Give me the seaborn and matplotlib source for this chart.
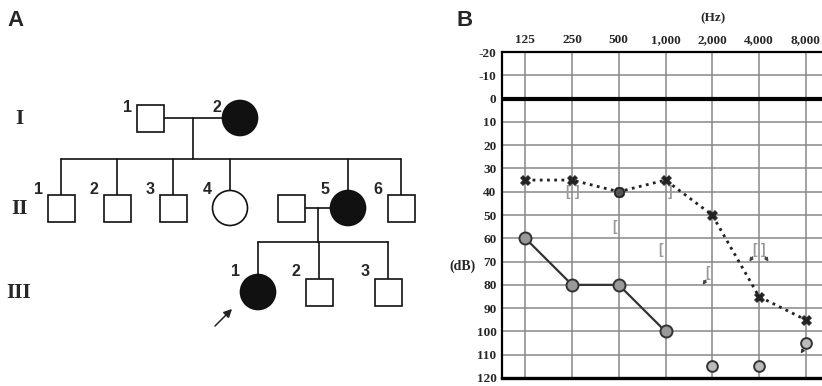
# pedigree (A) + audiogram (B)
import pandas as pd
import matplotlib.pyplot as plt
import seaborn as sns
from matplotlib.patches import Rectangle, Circle

# audiogram values
freqs = ['125', '250', '500', '1,000', '2,000', '4,000', '8,000']
left_air = [35, 35, 40, 35, 50, 85, 95]          # dotted line, X marks
left_o_freq = ['500']
left_o_db = [40]
right_air = [60, 80, 80, 100]                    # solid line, 125-1000 Hz
right_nr_freq = ['2,000', '4,000', '8,000']      # no response
right_nr_db = [115, 115, 105]
bone_freq = ['250', '250', '500', '1,000', '1,000', '2,000', '4,000', '4,000']
bone_db = [40, 40, 55, 40, 65, 75, 65, 65]
bone_sym = ['[', ']', '[', ']', '[', '[', '[', ']']
bone_nr = [0, 0, 0, 0, 0, 1, 1, 1]
db_ticks = list(range(-20, 130, 10))

# pedigree values
gen_names = ['I', 'II', 'III']
gen1_num = ['1', '2']
gen1_sex = ['m', 'f']
gen1_aff = [0, 1]
gen2_num = ['1', '2', '3', '4', '', '5', '6']
gen2_sex = ['m', 'm', 'm', 'f', 'm', 'f', 'm']
gen2_aff = [0, 0, 0, 0, 0, 1, 0]
gen3_num = ['1', '2', '3']
gen3_sex = ['f', 'm', 'm']
gen3_aff = [1, 0, 0]

# pedigree layout (pixels)
row_y = [118, 208, 292]
label_y = [107, 189, 272]
gen1_x = [150, 240]
gen2_x = [61, 117, 173, 230, 291, 348, 401]
gen3_x = [258, 319, 388]

sns.set_style('white')
plt.rcParams['font.family'] = ['Liberation Sans', 'DejaVu Sans']

fig = plt.figure(figsize=(8.22, 3.86), dpi=100)

# ---------- panel A ----------
pa = fig.add_axes([0, 0, 1, 1])
pa.set_xlim(0, 822)
pa.set_ylim(386, 0)
pa.axis('off')
pa.patch.set_alpha(0)

lw = 1.2
half = 13.5
rad = 17.5


def person(x, y, ly, sex, aff, num):
    fc = '#111111' if aff else 'white'
    if sex == 'm':
        pa.add_patch(Rectangle((x - half, y - half), 2 * half, 2 * half,
                               fc=fc, ec='#111111', lw=lw, zorder=3))
        top = y - half
    else:
        pa.add_patch(Circle((x, y), rad, fc=fc, ec='#111111', lw=lw, zorder=3))
        top = y - rad
    if num:
        pa.text(x - 23, ly, num, fontsize=11.5, fontweight='bold',
                ha='center', va='center')
    return top


gens = [(gen1_x, gen1_sex, gen1_aff, gen1_num),
        (gen2_x, gen2_sex, gen2_aff, gen2_num),
        (gen3_x, gen3_sex, gen3_aff, gen3_num)]
tops = []
for (xs, sx, af, nm), y, ly in zip(gens, row_y, label_y):
    tops.append([person(x, y, ly, s, a, n) for x, s, a, n in zip(xs, sx, af, nm)])

for name, y in zip(gen_names, row_y):
    pa.text(19, y + 1, name, fontsize=15, fontweight='bold',
            family='Liberation Serif', ha='center', va='center')

# gen I mating and sibship
pa.plot([gen1_x[0] + half, gen1_x[1] - rad], [118, 118], color='#111', lw=lw)
pa.plot([193, 193], [118, 159], color='#111', lw=lw)
sib2 = [0, 1, 2, 3, 5, 6]
pa.plot([gen2_x[0], gen2_x[-1]], [159, 159], color='#111', lw=lw)
for i in sib2:
    pa.plot([gen2_x[i], gen2_x[i]], [159, tops[1][i]], color='#111', lw=lw)

# gen II mating and sibship
pa.plot([gen2_x[4] + half, gen2_x[5] - rad], [208, 208], color='#111', lw=lw)
pa.plot([318, 318], [208, 242], color='#111', lw=lw)
pa.plot([gen3_x[0], gen3_x[-1]], [242, 242], color='#111', lw=lw)
for i in range(3):
    pa.plot([gen3_x[i], gen3_x[i]], [242, tops[2][i]], color='#111', lw=lw)

# proband arrow
pa.annotate('', xy=(234, 307), xytext=(213, 328),
            arrowprops=dict(arrowstyle='-|>', color='#222', lw=1.1,
                            mutation_scale=12))

pa.text(15, 20, 'A', fontsize=16, fontweight='bold', ha='center', va='center')
pa.text(465, 20, 'B', fontsize=16, fontweight='bold', ha='center', va='center')
pa.text(713, 18, '(Hz)', fontsize=9.5, fontweight='bold',
        family='Liberation Serif', ha='center', va='center')
pa.text(462, 266, '(dB)', fontsize=10, fontweight='bold',
        family='Liberation Serif', ha='center', va='center')

# ---------- panel B ----------
ax = fig.add_axes([502 / 822, 8 / 386, 327 / 822, 326 / 386])
pos = {f: i for i, f in enumerate(freqs)}

air_l = pd.DataFrame({'x': range(len(freqs)), 'db': left_air})
air_r = pd.DataFrame({'x': range(len(right_air)), 'db': right_air})
nr = pd.DataFrame({'x': [pos[f] for f in right_nr_freq], 'db': right_nr_db})

sns.lineplot(data=air_l, x='x', y='db', ax=ax, color='#222222', lw=2,
             linestyle=(0, (1, 1.6)), zorder=4)
sns.scatterplot(data=air_l, x='x', y='db', ax=ax, marker='X', s=50,
                color='#222222', edgecolor='#222222', zorder=5)
sns.scatterplot(x=[pos[f] for f in left_o_freq], y=left_o_db, ax=ax,
                marker='o', s=45, color='#555555', edgecolor='#222222',
                linewidth=1.2, zorder=6)

sns.lineplot(data=air_r, x='x', y='db', ax=ax, color='#333333', lw=1.6,
             zorder=4)
sns.scatterplot(data=air_r, x='x', y='db', ax=ax, marker='o', s=75,
                color='#999999', edgecolor='#333333', linewidth=1.4, zorder=5)
sns.scatterplot(data=nr, x='x', y='db', ax=ax, marker='o', s=60,
                color='#bbbbbb', edgecolor='#333333', linewidth=1.4, zorder=5)
for x, y in zip(nr['x'], nr['db']):
    ax.annotate('', xy=(x - 0.14, y + 5.5), xytext=(x - 0.03, y + 2.2),
                arrowprops=dict(arrowstyle='-|>', color='#333', lw=1,
                                mutation_scale=5), zorder=5)

for f, y, s, n in zip(bone_freq, bone_db, bone_sym, bone_nr):
    x = pos[f] + (-0.1 if s == '[' else 0.1)
    ax.text(x, y, s, color='#999999', fontsize=10, fontweight='bold',
            ha='center', va='center', zorder=3)
    if n:
        dx = -0.14 if s == '[' else 0.14
        ax.annotate('', xy=(x + dx, y + 6), xytext=(x, y + 2),
                    arrowprops=dict(arrowstyle='-|>', color='#444', lw=1,
                                    mutation_scale=5), zorder=3)

ax.set_xlim(-0.5, 6.5)
ax.set_ylim(120, -20)
ax.set_xticks(range(len(freqs)))
ax.set_xticklabels(freqs)
ax.set_yticks(db_ticks)
ax.set_yticklabels([str(t) for t in db_ticks])
ax.xaxis.tick_top()
ax.tick_params(length=0, pad=4, labelsize=9.5)
for lab in ax.get_xticklabels() + ax.get_yticklabels():
    lab.set_family('Liberation Serif')
    lab.set_fontweight('bold')
ax.set_xlabel('')
ax.set_ylabel('')
ax.grid(True, color='#888888', lw=1.1)
ax.set_axisbelow(True)
ax.axhline(0, color='black', lw=3, zorder=2)
ax.spines['bottom'].set_linewidth(2.4)
ax.spines['left'].set_linewidth(1.6)
ax.spines['top'].set_linewidth(1.6)
for s in ax.spines.values():
    s.set_color('black')

fig.savefig('out.png', dpi=100)
